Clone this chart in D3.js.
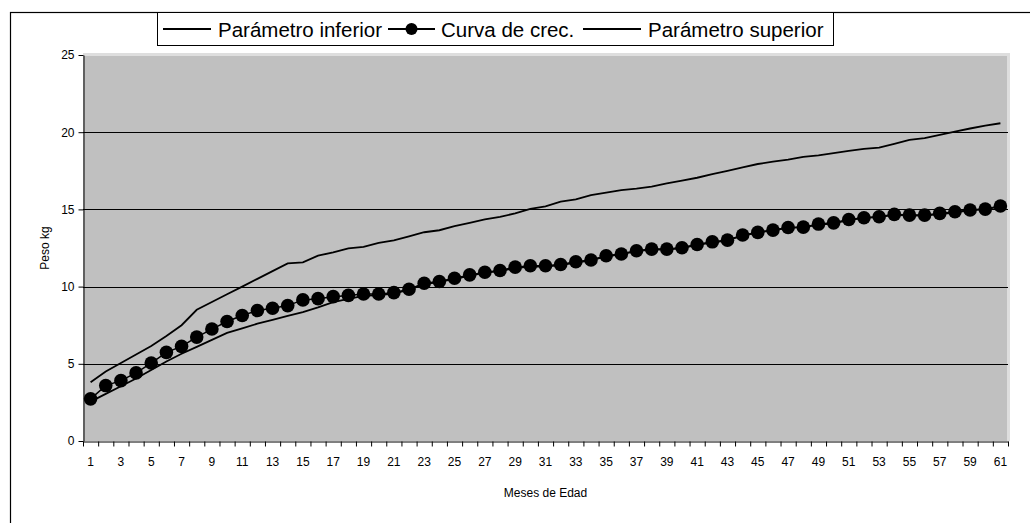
<!DOCTYPE html>
<html>
<head>
<meta charset="utf-8">
<script src="https://cdn.jsdelivr.net/npm/d3@7"></script>
<style>
  html, body { margin: 0; padding: 0; background: #fff; }
  svg { display: block; font-family: "Liberation Sans", Arial, sans-serif; }
</style>
</head>
<body>
<svg id="chart" width="1030" height="523"></svg>
<script>
const months = [1,2,3,4,5,6,7,8,9,10,11,12,13,14,15,16,17,18,19,20,21,22,23,24,25,26,27,28,29,30,
  31,32,33,34,35,36,37,38,39,40,41,42,43,44,45,46,47,48,49,50,51,52,53,54,55,56,57,58,59,60,61];

const lowerParam = [2.55,3.05,3.55,4.05,4.6,5.15,5.65,6.1,6.55,7.0,7.3,7.6,7.85,8.1,8.35,8.65,
  9.0,9.2,9.4,9.45,9.55,9.8,10.15,10.3,10.5,10.7,10.9,11.0,11.2,11.3,11.3,11.4,
  11.55,11.7,11.95,12.1,12.3,12.4,12.4,12.5,12.7,12.85,13.0,13.3,13.5,13.65,13.8,13.85,
  14.0,14.1,14.3,14.45,14.5,14.65,14.6,14.6,14.7,14.8,14.95,15.0,15.2];

const growth = [2.73,3.59,3.91,4.41,5.05,5.74,6.13,6.73,7.25,7.74,8.13,8.45,8.6,8.77,9.14,9.22,
  9.35,9.43,9.52,9.52,9.61,9.83,10.22,10.33,10.54,10.76,10.93,11.04,11.26,11.35,11.35,11.43,
  11.61,11.72,12.0,12.11,12.32,12.43,12.43,12.52,12.73,12.9,13.01,13.34,13.51,13.66,13.83,13.85,
  14.05,14.13,14.35,14.46,14.52,14.68,14.63,14.63,14.74,14.85,14.96,15.02,15.22];

const upperParam = [3.8,4.5,5.05,5.6,6.15,6.8,7.5,8.5,9.0,9.5,10.0,10.5,11.0,11.5,11.57,12.0,
  12.22,12.48,12.57,12.83,13.0,13.26,13.52,13.65,13.91,14.13,14.35,14.52,14.74,15.04,15.2,15.5,
  15.65,15.93,16.08,16.25,16.34,16.47,16.68,16.86,17.05,17.29,17.5,17.72,17.94,18.09,18.22,18.4,
  18.5,18.64,18.79,18.92,19.0,19.24,19.5,19.61,19.83,20.04,20.24,20.43,20.58];

const yTicks = [0,5,10,15,20,25];
const gridValues = [5,10,15,20];
const xLabelMonths = [1,3,5,7,9,11,13,15,17,19,21,23,25,27,29,31,33,35,37,39,41,43,45,47,49,51,53,55,57,59,61];
const seriesNames = ["Parámetro inferior", "Curva de crec.", "Parámetro superior"];
const yTitle = "Peso kg";
const xTitle = "Meses de Edad";

const svg = d3.select("#chart");
const L = 83, R = 1008, T = 55, B = 441;

const x = d3.scaleBand().domain(months).range([L, R]).padding(0);
const xEdge = d3.scaleLinear().domain([0.5, 61.5]).range([L, R]);
const y = d3.scaleLinear().domain([0, 25]).range([B, T]);
const cx = m => x(m) + x.bandwidth() / 2;

// outer chart border
svg.append("rect").attr("x", 10.5).attr("y", 12.5).attr("width", 1040).attr("height", 540)
  .attr("fill", "none").attr("stroke", "#000").attr("stroke-width", 1.2);

// plot area
svg.append("rect").attr("x", L).attr("y", T).attr("width", R - L).attr("height", B - T)
  .attr("fill", "#c0c0c0");
svg.append("line").attr("x1", L).attr("x2", R + 2).attr("y1", T - 0.5).attr("y2", T - 0.5)
  .attr("stroke", "#dedede").attr("stroke-width", 3);
svg.append("line").attr("x1", R + 0.5).attr("x2", R + 0.5).attr("y1", T - 2).attr("y2", B)
  .attr("stroke", "#dedede").attr("stroke-width", 3);

// gridlines
svg.append("g").selectAll("line").data(gridValues).join("line")
  .attr("x1", L).attr("x2", R)
  .attr("y1", d => Math.round(y(d)) + 0.5).attr("y2", d => Math.round(y(d)) + 0.5)
  .attr("stroke", "#000").attr("stroke-width", 1);

// y axis
const yAxis = svg.append("g").attr("transform", `translate(${L + 0.5},0)`)
  .call(d3.axisLeft(y).tickValues(yTicks).tickSize(5).tickPadding(4).tickSizeOuter(0));
yAxis.selectAll("text").attr("font-size", 12).attr("fill", "#000")
  .attr("font-family", "Liberation Sans, Arial, sans-serif");
yAxis.selectAll("line,path").attr("stroke", "#000");

// x axis: tick marks at category boundaries
const xTickAxis = svg.append("g").attr("transform", `translate(0,${B + 0.5})`)
  .call(d3.axisBottom(xEdge).tickValues(d3.range(0.5, 62, 1)).tickSize(5).tickFormat("").tickSizeOuter(0));
xTickAxis.selectAll("line,path").attr("stroke", "#000");

// x axis labels at category centers
const xLabAxis = svg.append("g").attr("transform", `translate(0,${B + 0.5})`)
  .call(d3.axisBottom(x).tickValues(xLabelMonths).tickSize(0).tickPadding(16));
xLabAxis.select(".domain").remove();
xLabAxis.selectAll("text").attr("font-size", 12).attr("fill", "#000")
  .attr("font-family", "Liberation Sans, Arial, sans-serif");

// titles
svg.append("text").attr("transform", `translate(49,248) rotate(-90)`)
  .attr("text-anchor", "middle").attr("font-size", 12).text(yTitle);
svg.append("text").attr("x", (L + R) / 2).attr("y", 497)
  .attr("text-anchor", "middle").attr("font-size", 12).text(xTitle);

// series
const line = d3.line().x((d, i) => cx(months[i])).y(d => y(d));
svg.append("path").datum(lowerParam).attr("d", line)
  .attr("fill", "none").attr("stroke", "#000").attr("stroke-width", 1.8);
svg.append("path").datum(upperParam).attr("d", line)
  .attr("fill", "none").attr("stroke", "#000").attr("stroke-width", 1.8);
svg.append("path").datum(growth).attr("d", line)
  .attr("fill", "none").attr("stroke", "#000").attr("stroke-width", 1.5);
svg.append("g").selectAll("circle").data(growth).join("circle")
  .attr("cx", (d, i) => cx(months[i])).attr("cy", d => y(d)).attr("r", 6.8).attr("fill", "#000");

// legend
const lg = svg.append("g");
lg.append("rect").attr("x", 157.5).attr("y", 12.5).attr("width", 676).attr("height", 33)
  .attr("fill", "#fff").attr("stroke", "#000").attr("stroke-width", 1);
const legendItems = [
  { name: seriesNames[0], x1: 163, x2: 211, tx: 218, marker: false },
  { name: seriesNames[1], x1: 388, x2: 435, tx: 441, marker: true },
  { name: seriesNames[2], x1: 583, x2: 641, tx: 648, marker: false }
];
legendItems.forEach(it => {
  lg.append("line").attr("x1", it.x1).attr("x2", it.x2).attr("y1", 29).attr("y2", 29)
    .attr("stroke", "#000").attr("stroke-width", 1.8);
  if (it.marker) {
    lg.append("circle").attr("cx", (it.x1 + it.x2) / 2).attr("cy", 29).attr("r", 6).attr("fill", "#000");
  }
  lg.append("text").attr("x", it.tx).attr("y", 36.5).attr("font-size", 20.5).text(it.name);
});
</script>
</body>
</html>
